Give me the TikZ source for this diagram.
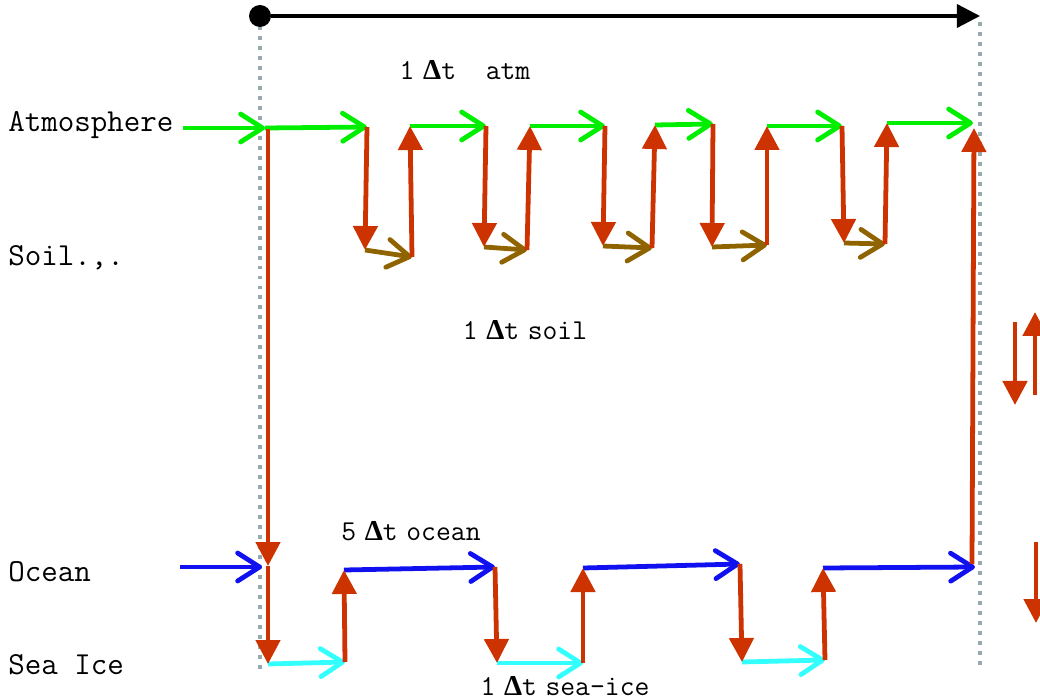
\documentclass[tikz,border=0pt]{standalone}
\usepackage{fontspec}
\newfontfamily\deltafont{Liberation Serif}
\usepackage{tikz}
\usetikzlibrary{arrows.meta}
\pgfdeclarelayer{edgelayer}
\pgfdeclarelayer{nodelayer}
\pgfsetlayers{edgelayer,nodelayer,main}
\definecolor{AtmGreen}{HTML}{00EE00}
\definecolor{SoilBrown}{HTML}{8F6400}
\definecolor{OceanBlue}{HTML}{1010F0}
\definecolor{IceCyan}{HTML}{33FFFF}
\definecolor{CoupleRed}{HTML}{CC3300}
\definecolor{GuideGrey}{HTML}{96AAB0}
\newcommand{\dt}{{\deltafont\bfseries Δ}t}
\newcommand{\gap}{\hspace{0.3em}}
\tikzstyle{none}=[inner sep=0pt]
\tikzstyle{dot}=[circle,fill=black,minimum size=0.55cm,inner sep=0pt]
\tikzstyle{rowlabel}=[anchor=west,inner sep=0pt,font=\ttfamily\fontsize{22.8}{26}\selectfont]
\tikzstyle{dtlabel}=[inner sep=0pt,font=\ttfamily\fontsize{20.5}{24}\selectfont]
\tikzstyle{timeline}=[-{Triangle[length=0.58cm,width=0.58cm]},draw=black,line width=2.4pt]
\tikzstyle{guide}=[-,draw=GuideGrey,line width=2.8pt,dash pattern=on 2.8pt off 4.3pt]
\tikzstyle{couple}=[-{Triangle[length=0.6cm,width=0.6cm]},draw=CoupleRed,line width=3.4pt]
\tikzstyle{atmflow}=[-{Straight Barb[length=0.55cm,width=0.7cm,round]},draw=AtmGreen,line width=3.4pt]
\tikzstyle{soilflow}=[-{Straight Barb[length=0.55cm,width=0.7cm,round]},draw=SoilBrown,line width=3.4pt]
\tikzstyle{oceanflow}=[-{Straight Barb[length=0.55cm,width=0.7cm,round]},draw=OceanBlue,line width=3.4pt]
\tikzstyle{iceflow}=[-{Straight Barb[length=0.55cm,width=0.7cm,round]},draw=IceCyan,line width=3.4pt]
\begin{document}
\begin{tikzpicture}[x=0.5cm,y=0.5cm]
	\useasboundingbox (0,0) rectangle (52,-35);
	\begin{pgfonlayer}{nodelayer}
		\node [style=rowlabel] (0) at (0.4,-6.25) {Atmosphere};
		\node [style=rowlabel] (1) at (0.4,-12.9) {Soil.,.};
		\node [style=rowlabel] (2) at (0.4,-28.6) {Ocean};
		\node [style=rowlabel] (3) at (0.4,-33.25) {Sea Ice};
		\node [style=dtlabel] (4) at (23.25,-3.5) {1\gap\dt~~atm};
		\node [style=dtlabel] (5) at (26.25,-16.5) {1\gap\dt\gap soil};
		\node [style=dtlabel] (6) at (20.55,-26.55) {5\gap\dt\gap ocean};
		\node [style=dtlabel] (7) at (28.25,-34.3) {1\gap\dt\gap sea-ice};
		\node [style=dot] (8) at (13,-0.8) {};
		\node [style=none] (9) at (49,-0.8) {};
		\node [style=none] (10) at (13,-1.3) {};
		\node [style=none] (11) at (13,-33.5) {};
		\node [style=none] (12) at (49,-1.1) {};
		\node [style=none] (13) at (49,-33.5) {};
		\node [style=none] (14) at (9.15,-6.4) {};
		\node [style=none] (15) at (13.25,-6.4) {};
		\node [style=none] (16) at (18.35,-6.35) {};
		\node [style=none] (17) at (18.25,-12.5) {};
		\node [style=none] (18) at (20.6,-12.85) {};
		\node [style=none] (19) at (20.5,-6.3) {};
		\node [style=none] (20) at (24.3,-6.3) {};
		\node [style=none] (21) at (24.2,-12.35) {};
		\node [style=none] (22) at (26.35,-12.5) {};
		\node [style=none] (23) at (26.5,-6.3) {};
		\node [style=none] (24) at (30.25,-6.3) {};
		\node [style=none] (25) at (30.15,-12.3) {};
		\node [style=none] (26) at (32.6,-12.4) {};
		\node [style=none] (27) at (32.75,-6.25) {};
		\node [style=none] (28) at (35.65,-6.2) {};
		\node [style=none] (29) at (35.6,-12.35) {};
		\node [style=none] (30) at (38.35,-12.25) {};
		\node [style=none] (31) at (38.35,-6.3) {};
		\node [style=none] (32) at (42.1,-6.3) {};
		\node [style=none] (33) at (42.2,-12.15) {};
		\node [style=none] (34) at (44.25,-12.2) {};
		\node [style=none] (35) at (44.35,-6.15) {};
		\node [style=none] (36) at (48.65,-6.15) {};
		\node [style=none] (37) at (13.4,-6.45) {};
		\node [style=none] (38) at (13.4,-28.3) {};
		\node [style=none] (39) at (13.4,-33.2) {};
		\node [style=none] (40) at (9,-28.35) {};
		\node [style=none] (41) at (13.1,-28.35) {};
		\node [style=none] (42) at (17.25,-33.1) {};
		\node [style=none] (43) at (17.2,-28.5) {};
		\node [style=none] (44) at (24.75,-28.35) {};
		\node [style=none] (45) at (24.85,-33.15) {};
		\node [style=none] (46) at (29.15,-33.15) {};
		\node [style=none] (47) at (29.15,-28.4) {};
		\node [style=none] (48) at (37,-28.2) {};
		\node [style=none] (49) at (37.1,-33.1) {};
		\node [style=none] (50) at (41.25,-33) {};
		\node [style=none] (51) at (41.15,-28.4) {};
		\node [style=none] (52) at (48.75,-28.35) {};
		\node [style=none] (53) at (48.6,-28.2) {};
		\node [style=none] (54) at (48.7,-6.4) {};
		\node [style=none] (55) at (50.75,-16.1) {};
		\node [style=none] (56) at (50.75,-20.25) {};
		\node [style=none] (57) at (51.75,-19.75) {};
		\node [style=none] (58) at (51.75,-15.6) {};
		\node [style=none] (59) at (51.8,-27.1) {};
		\node [style=none] (60) at (51.8,-31.15) {};
	\end{pgfonlayer}
	\begin{pgfonlayer}{edgelayer}
		\draw [style=guide] (10.center) to (11.center);
		\draw [style=guide] (12.center) to (13.center);
		\draw [style=timeline] (8) to (9.center);
		\draw [style=atmflow] (14.center) to (15.center);
		\draw [style=atmflow] (15.center) to (16.center);
		\draw [style=atmflow] (19.center) to (20.center);
		\draw [style=atmflow] (23.center) to (24.center);
		\draw [style=atmflow] (27.center) to (28.center);
		\draw [style=atmflow] (31.center) to (32.center);
		\draw [style=atmflow] (35.center) to (36.center);
		\draw [style=soilflow] (17.center) to (18.center);
		\draw [style=soilflow] (21.center) to (22.center);
		\draw [style=soilflow] (25.center) to (26.center);
		\draw [style=soilflow] (29.center) to (30.center);
		\draw [style=soilflow] (33.center) to (34.center);
		\draw [style=couple] (16.center) to (17.center);
		\draw [style=couple] (18.center) to (19.center);
		\draw [style=couple] (20.center) to (21.center);
		\draw [style=couple] (22.center) to (23.center);
		\draw [style=couple] (24.center) to (25.center);
		\draw [style=couple] (26.center) to (27.center);
		\draw [style=couple] (28.center) to (29.center);
		\draw [style=couple] (30.center) to (31.center);
		\draw [style=couple] (32.center) to (33.center);
		\draw [style=couple] (34.center) to (35.center);
		\draw [style=oceanflow] (40.center) to (41.center);
		\draw [style=oceanflow] (43.center) to (44.center);
		\draw [style=oceanflow] (47.center) to (48.center);
		\draw [style=oceanflow] (51.center) to (52.center);
		\draw [style=iceflow] (39.center) to (42.center);
		\draw [style=iceflow] (45.center) to (46.center);
		\draw [style=iceflow] (49.center) to (50.center);
		\draw [style=couple] (37.center) to (38.center);
		\draw [style=couple] (38.center) to (39.center);
		\draw [style=couple] (42.center) to (43.center);
		\draw [style=couple] (44.center) to (45.center);
		\draw [style=couple] (46.center) to (47.center);
		\draw [style=couple] (48.center) to (49.center);
		\draw [style=couple] (50.center) to (51.center);
		\draw [style=couple] (53.center) to (54.center);
		\draw [style=couple] (55.center) to (56.center);
		\draw [style=couple] (57.center) to (58.center);
		\draw [style=couple] (59.center) to (60.center);
	\end{pgfonlayer}
\end{tikzpicture}
\end{document}
